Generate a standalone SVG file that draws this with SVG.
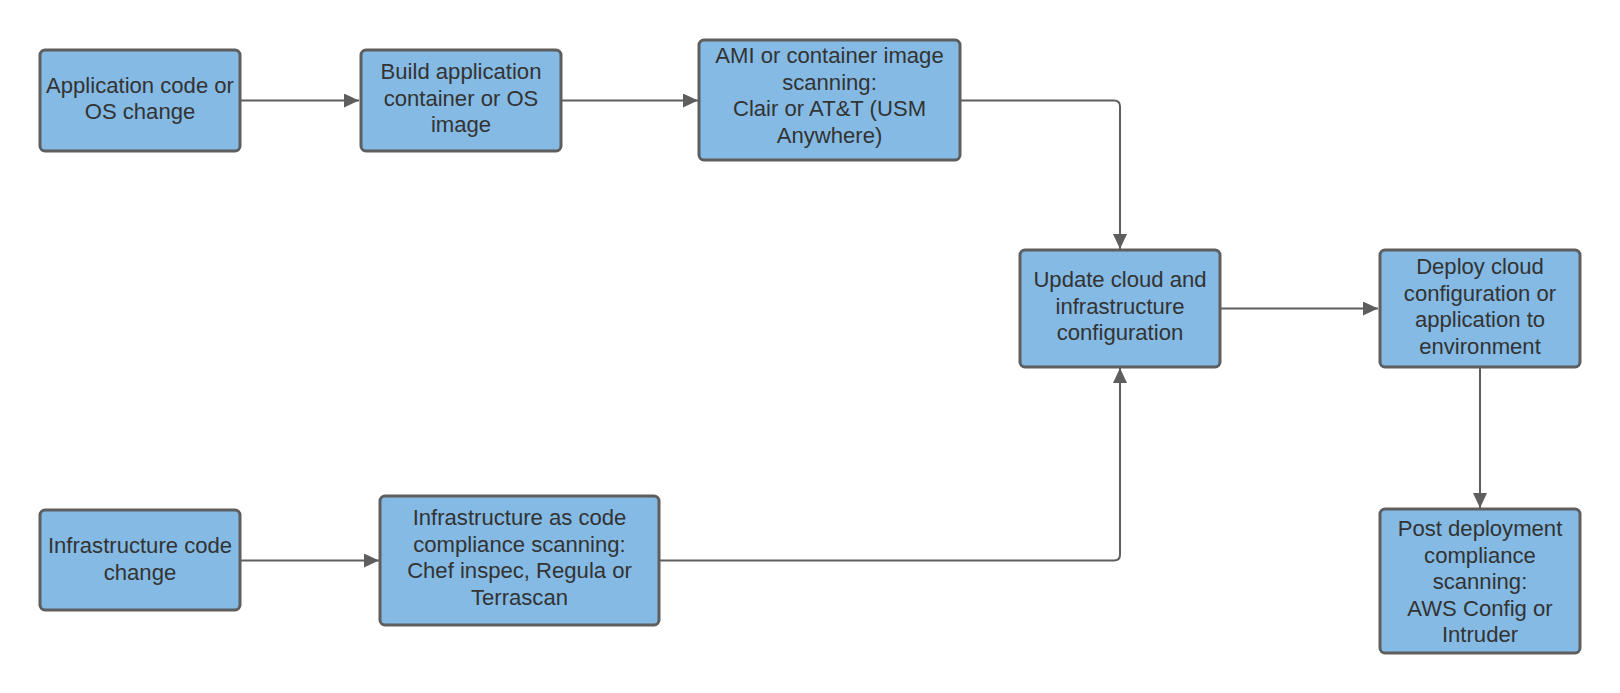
<svg xmlns="http://www.w3.org/2000/svg" width="1620" height="693" viewBox="0 0 1620 693">
<defs>
<style>
.box{fill:#84bae3;stroke:#5e5e5e;stroke-width:3}
.lbl{font-family:"Liberation Sans",Arial,sans-serif;font-size:22.1px;fill:#333333;text-anchor:middle}
.edge{fill:none;stroke:#5e5e5e;stroke-width:2}
</style>
<marker id="arr" markerUnits="userSpaceOnUse" markerWidth="16" markerHeight="14" refX="15" refY="7" orient="auto">
<path d="M0,0 L15,7 L0,14 Z" fill="#5e5e5e"/>
</marker>
</defs>
<rect width="1620" height="693" fill="#ffffff"/>
<g id="connectors">
<path class="edge" marker-end="url(#arr)" d="M240,100.5 L359,100.5"/>
<path class="edge" marker-end="url(#arr)" d="M561,100.5 L698,100.5"/>
<path class="edge" marker-end="url(#arr)" d="M960,100.5 L1114,100.5 Q1120,100.5 1120,106.5 L1120,249"/>
<path class="edge" marker-end="url(#arr)" d="M659,560.5 L1114,560.5 Q1120,560.5 1120,554.5 L1120,368"/>
<path class="edge" marker-end="url(#arr)" d="M1220,308.5 L1378,308.5"/>
<path class="edge" marker-end="url(#arr)" d="M1480,367 L1480,508"/>
<path class="edge" marker-end="url(#arr)" d="M240,560.5 L379,560.5"/>
</g>
<g id="n1">
<rect class="box" x="40" y="50" width="200" height="101" rx="5"/>
<text class="lbl" x="140"><tspan x="140" y="92.5">Application code or</tspan><tspan x="140" y="119">OS change</tspan></text>
</g>
<g id="n2">
<rect class="box" x="361" y="50" width="200" height="101" rx="5"/>
<text class="lbl"><tspan x="461" y="79">Build application</tspan><tspan x="461" y="105.5">container or OS</tspan><tspan x="461" y="132">image</tspan></text>
</g>
<g id="n3">
<rect class="box" x="699" y="40" width="261" height="120" rx="5"/>
<text class="lbl"><tspan x="829.5" y="63">AMI or container image</tspan><tspan x="829.5" y="89.5">scanning:</tspan><tspan x="829.5" y="116">Clair or AT&amp;T (USM</tspan><tspan x="829.5" y="142.5">Anywhere)</tspan></text>
</g>
<g id="n4">
<rect class="box" x="1020" y="250" width="200" height="117" rx="5"/>
<text class="lbl"><tspan x="1120" y="287">Update cloud and</tspan><tspan x="1120" y="313.5">infrastructure</tspan><tspan x="1120" y="340">configuration</tspan></text>
</g>
<g id="n5">
<rect class="box" x="1380" y="250" width="200" height="117" rx="5"/>
<text class="lbl"><tspan x="1480" y="274">Deploy cloud</tspan><tspan x="1480" y="300.5">configuration or</tspan><tspan x="1480" y="327">application to</tspan><tspan x="1480" y="353.5">environment</tspan></text>
</g>
<g id="n6">
<rect class="box" x="40" y="510" width="200" height="100" rx="5"/>
<text class="lbl"><tspan x="140" y="553">Infrastructure code</tspan><tspan x="140" y="579.5">change</tspan></text>
</g>
<g id="n7">
<rect class="box" x="380" y="496" width="279" height="129" rx="5"/>
<text class="lbl"><tspan x="519.5" y="525">Infrastructure as code</tspan><tspan x="519.5" y="551.5">compliance scanning:</tspan><tspan x="519.5" y="578">Chef inspec, Regula or</tspan><tspan x="519.5" y="604.5">Terrascan</tspan></text>
</g>
<g id="n8">
<rect class="box" x="1380" y="509" width="200" height="144" rx="5"/>
<text class="lbl"><tspan x="1480" y="536">Post deployment</tspan><tspan x="1480" y="562.5">compliance</tspan><tspan x="1480" y="589">scanning:</tspan><tspan x="1480" y="615.5">AWS Config or</tspan><tspan x="1480" y="642">Intruder</tspan></text>
</g>
</svg>
